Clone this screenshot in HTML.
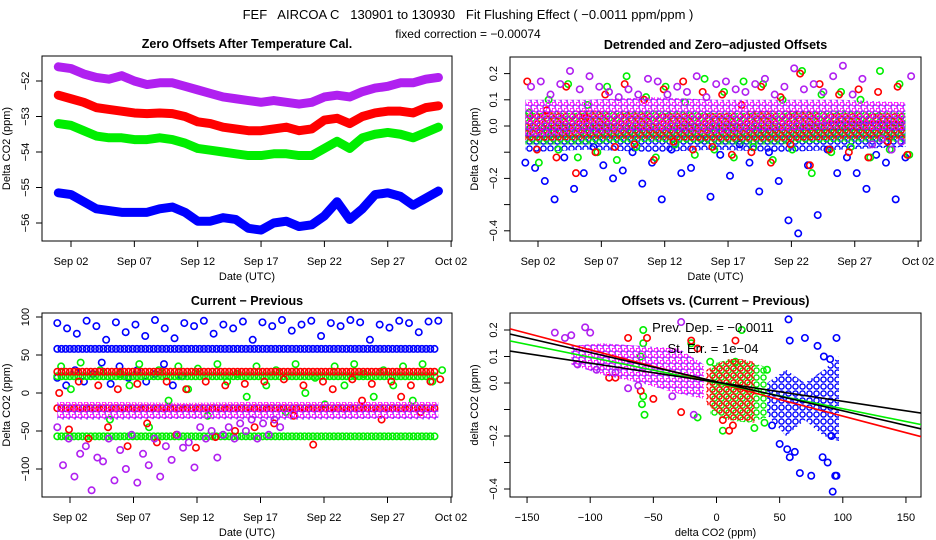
<!DOCTYPE html>
<html><head><meta charset="utf-8"><style>
html,body{margin:0;padding:0;background:#fff;}
svg{display:block;font-family:"Liberation Sans",sans-serif;}
</style></head><body>
<svg id="chart" width="936" height="540" viewBox="0 0 936 540" xmlns="http://www.w3.org/2000/svg">
<defs>
<pattern id="pat-purple" width="6" height="6" patternUnits="userSpaceOnUse"><circle cx="2" cy="2" r="2" fill="none" stroke="#ff00ff" stroke-width="1.3"/><circle cx="5" cy="5" r="2" fill="none" stroke="#8020ff" stroke-width="1.3"/></pattern>
<pattern id="pat-red" width="7" height="7" patternUnits="userSpaceOnUse" patternTransform="translate(2,1)"><circle cx="3.5" cy="3.5" r="2.6" fill="none" stroke="#ff0000" stroke-width="1.4"/></pattern>
<pattern id="pat-green" width="7" height="7" patternUnits="userSpaceOnUse" patternTransform="translate(4,3)"><circle cx="3.5" cy="3.5" r="2.6" fill="none" stroke="#00ee00" stroke-width="1.4"/></pattern>
<pattern id="pat-blue" width="7" height="7" patternUnits="userSpaceOnUse" patternTransform="translate(1,5)"><circle cx="3.5" cy="3.5" r="2.6" fill="none" stroke="#0000ff" stroke-width="1.4"/></pattern>
</defs>
<text x="468" y="19" text-anchor="middle" font-size="13" style="white-space:pre">FEF   AIRCOA C   130901 to 130930   Fit Flushing Effect ( −0.0011 ppm/ppm )</text>
<text x="468" y="38" text-anchor="middle" font-size="12">fixed correction = −0.00074</text>
</svg>
<script>
// ---------- data ----------
const tlDays=[1,2,3,4,5,6,7,8,9,10,11,12,13,14,15,16,17,18,19,20,21,22,23,24,25,26,27,28,29,30,31];
const tlPurple=[-51.6,-51.65,-51.8,-51.9,-51.95,-51.85,-52.0,-52.1,-52.05,-52.05,-52.15,-52.25,-52.35,-52.45,-52.5,-52.55,-52.6,-52.55,-52.6,-52.65,-52.6,-52.45,-52.4,-52.45,-52.3,-52.2,-52.15,-52.05,-52.05,-51.95,-51.9];
const tlRed=[-52.4,-52.5,-52.6,-52.75,-52.8,-52.85,-52.9,-52.92,-52.9,-52.92,-53.0,-53.15,-53.2,-53.3,-53.35,-53.4,-53.4,-53.35,-53.3,-53.4,-53.35,-53.1,-53.05,-53.2,-53.0,-52.9,-52.85,-52.85,-52.9,-52.75,-52.7];
const tlGreen=[-53.2,-53.25,-53.4,-53.55,-53.6,-53.6,-53.65,-53.65,-53.6,-53.65,-53.75,-53.9,-53.95,-54.0,-54.05,-54.1,-54.1,-54.05,-54.05,-54.1,-54.1,-53.9,-53.7,-53.9,-53.6,-53.5,-53.45,-53.5,-53.6,-53.45,-53.3];
const tlBlue=[-55.15,-55.2,-55.4,-55.6,-55.65,-55.7,-55.7,-55.7,-55.6,-55.55,-55.7,-55.95,-55.95,-55.85,-55.9,-56.15,-56.2,-56.0,-55.95,-56.1,-56.05,-55.8,-55.4,-55.9,-55.6,-55.2,-55.15,-55.25,-55.5,-55.3,-55.1];

const bandDays=[1,6,11,16,21,26,31];
const trBlueLo=[-0.10,-0.09,-0.10,-0.09,-0.10,-0.09,-0.08];
const trBlueHi=[0.00,0.01,0.00,0.01,0.00,0.02,0.02];
const trGreenLo=[-0.07,-0.07,-0.06,-0.07,-0.07,-0.06,-0.06];
const trGreenHi=[0.05,0.05,0.06,0.05,0.05,0.06,0.05];
const trRedLo=[-0.06,-0.05,-0.05,-0.06,-0.06,-0.05,-0.05];
const trRedHi=[0.05,0.06,0.05,0.05,0.06,0.05,0.05];
const trPurpleLo=[-0.04,-0.03,-0.02,-0.03,-0.02,-0.01,-0.02];
const trPurpleHi=[0.10,0.10,0.11,0.10,0.10,0.10,0.09];
const trPurple=[0.15,0.17,0.12,0.16,0.21,0.14,0.19,0.15,0.13,0.11,0.14,0.12,0.18,0.17,0.12,0.15,0.13,0.19,0.11,0.16,0.17,0.14,0.13,0.16,0.18,0.12,0.15,0.22,0.14,0.16,0.13,0.19,0.23,0.12,0.18,-0.07,-0.05,-0.09,-0.06,0.19];
const trRed=[0.17,-0.09,0.06,-0.12,0.15,-0.18,0.03,-0.10,0.12,-0.08,0.16,-0.07,0.10,-0.13,0.14,-0.06,0.17,-0.09,0.13,-0.08,0.12,-0.11,0.08,-0.10,0.15,-0.14,0.11,-0.07,0.20,-0.15,0.16,-0.09,0.12,-0.10,0.14,-0.12,0.13,-0.06,0.15,-0.11];
const trGreen=[0.05,-0.14,0.10,-0.09,0.16,-0.12,0.08,-0.10,0.15,-0.13,0.19,-0.08,0.11,-0.12,0.15,-0.07,0.09,-0.11,0.18,-0.09,0.13,-0.12,0.17,-0.08,0.16,-0.13,0.10,-0.09,0.21,-0.18,0.12,-0.10,0.13,-0.08,0.10,-0.12,0.21,-0.09,0.16,-0.11];
const trBlue=[-0.14,-0.16,-0.21,-0.28,-0.12,-0.24,-0.18,-0.08,-0.15,-0.20,-0.17,-0.10,-0.22,-0.14,-0.28,-0.09,-0.18,-0.16,-0.05,-0.27,-0.11,-0.19,-0.07,-0.14,-0.25,-0.10,-0.21,-0.36,-0.41,-0.15,-0.34,-0.09,-0.18,-0.12,-0.18,-0.24,-0.11,-0.14,-0.28,-0.12];

const blBlueLevels=[58];
const blGreenLevels=[22,-57];
const blRedLevels=[28,-20];
const blPurpleLo=[-35,-35,-34,-35,-35,-34,-35];
const blPurpleHi=[-12,-12,-13,-12,-12,-12,-12];
const blBlue=[92,85,78,95,88,70,93,80,90,75,96,85,72,92,88,95,78,90,85,94,70,93,88,96,82,90,95,75,92,88,96,93,70,90,86,95,92,80,94,95];
const blBlueLow=[20,10,30,15,25,40,12,35,20,30,15,25,38,10,22];
const blGreen=[35,5,40,-20,30,-35,25,10,38,-45,30,-10,35,5,32,-30,38,15,25,-5,35,10,30,-25,38,0,20,-15,35,10,38,25,-5,30,10,35,-10,38,15,30];
const blRed=[0,-48,15,-60,10,-45,5,-70,12,-40,-65,15,-55,5,-72,15,-58,10,-50,12,-45,15,-40,18,-30,10,-68,15,5,-20,18,-10,12,-35,15,-5,10,-25,15,18];
const blPurple=[-45,-95,-60,-110,-80,-70,-128,-85,-90,-60,-115,-75,-100,-55,-118,-80,-95,-60,-110,-70,-88,-55,-72,-65,-98,-45,-60,-50,-85,-55,-45,-60,-40,-50,-35,-60,-40,-55,-35,-45];

const brPurpleX=[-115,-90,-60,-30,-10];
const brPurpleLo=[0.07,0.03,0.00,-0.04,-0.06];
const brPurpleHi=[0.14,0.15,0.14,0.13,0.07];
const brRedX=[-8,0,10,20,30];
const brRedLo=[-0.08,-0.11,-0.14,-0.14,-0.15];
const brRedHi=[0.05,0.07,0.09,0.09,0.08];
const brGreenX=[-5,10,25,40];
const brGreenLo=[-0.12,-0.14,-0.15,-0.13];
const brGreenHi=[0.07,0.09,0.08,0.06];
const brBlueX=[40,55,70,85,97];
const brBlueLo=[-0.12,-0.20,-0.14,-0.20,-0.22];
const brBlueHi=[0.00,0.05,0.00,0.05,0.10];
const brBluePtX=[57,58,70,80,85,90,92,94,95,56,62,66,75,84,88,95,50,44,58,91];
const brBluePtY=[0.24,0.16,0.17,0.14,0.10,0.09,-0.41,-0.35,0.17,-0.25,-0.26,-0.34,-0.35,-0.28,-0.3,-0.35,-0.23,-0.16,-0.28,-0.2];
const brGreenPtX=[-58,-58,-60,-58,-57,-59,5,-20,-5,-15,40,38,20,15,30];
const brGreenPtY=[0.20,0.15,0.10,-0.05,-0.12,-0.08,-0.18,0.15,0.08,-0.13,0.05,-0.15,0.20,0.08,-0.17];
const brRedPtX=[-70,-55,-80,-20,-60,-28,-50,-85,15,10,13,-15,5];
const brRedPtY=[0.17,0.17,0.02,0.16,-0.03,-0.11,-0.06,0.02,0.16,-0.18,-0.16,0.13,-0.14];
const brPurplePtX=[-128,-104,-115,-100,-120,-110,-95,-70,-35,-28,-18,-80,-62];
const brPurplePtY=[0.19,0.21,0.18,0.19,0.17,0.07,0.05,-0.02,-0.05,0.23,-0.12,0.04,-0.01];
const fitIntercepts=[0.0,0.0,0.005,0.003];
const fitSlopes=[-0.00125,-0.00097,-0.0011,-0.00072];
const fitColors=['#ff0000','#00ee00','#000000','#000000'];
const fitNames=['fit-line-red','fit-line-green','fit-line-black','fit-line-fixed'];

const dateTicks=[2,7,12,17,22,27,32];
const dateLabels=['Sep 02','Sep 07','Sep 12','Sep 17','Sep 22','Sep 27','Oct 02'];
const tlYTicks=[-52,-53,-54,-55,-56];
const tlYLabels=['−52','−53','−54','−55','−56'];
const offTicks=[0.2,0.1,0.0,-0.1,-0.2,-0.3,-0.4];
const offLabels=['0.2','0.1','0.0','','−0.2','','−0.4'];
const blYTicks=[100,50,0,-50,-100];
const blYLabels=['100','50','0','−50','−100'];
const brXTicks=[-150,-100,-50,0,50,100,150];
const brXLabels=['−150','−100','−50','0','50','100','150'];

// ---------- helpers ----------
const NS='http://www.w3.org/2000/svg';
const svg=document.getElementById('chart');
function el(tag,parent){const e=document.createElementNS(NS,tag);parent.appendChild(e);return e;}
function group(name){const g=el('g',svg);return g;}

function drawAxes(g,box,xTicks,xLabels,xf,yTicks,yLabels,yf,title,xTitle,yTitle){
  const r=el('rect',g);
  
  
  r.setAttribute('x',box.l);r.setAttribute('y',box.t);r.setAttribute('width',box.r-box.l);r.setAttribute('height',box.b-box.t);
  r.setAttribute('fill','none');r.setAttribute('stroke','#000');r.setAttribute('stroke-width','1');
  const xa=el('line',g);
  
  
  xa.setAttribute('x1',xf(xTicks[0]));xa.setAttribute('x2',xf(xTicks[xTicks.length-1]));xa.setAttribute('y1',box.b);xa.setAttribute('y2',box.b);xa.setAttribute('stroke','#000');
  xTicks.forEach((v,i)=>{
    const t=el('line',g);
    
    
    t.setAttribute('x1',xf(v));t.setAttribute('x2',xf(v));t.setAttribute('y1',box.b);t.setAttribute('y2',box.b+6);t.setAttribute('stroke','#000');
    const l=el('text',g);
    
    
    l.setAttribute('x',xf(v));l.setAttribute('y',box.b+24);l.setAttribute('text-anchor','middle');l.setAttribute('font-size','11');
    l.textContent=xLabels[i];
  });
  const ya=el('line',g);
  
  
  ya.setAttribute('x1',box.l);ya.setAttribute('x2',box.l);ya.setAttribute('y1',yf(yTicks[0]));ya.setAttribute('y2',yf(yTicks[yTicks.length-1]));ya.setAttribute('stroke','#000');
  yTicks.forEach((v,i)=>{
    const t=el('line',g);
    
    
    t.setAttribute('x1',box.l-6);t.setAttribute('x2',box.l);t.setAttribute('y1',yf(v));t.setAttribute('y2',yf(v));t.setAttribute('stroke','#000');
    if(yLabels[i]){
      const l=el('text',g);
      
      
      const lx=box.l-13,ly=yf(v);
      l.setAttribute('x',lx);l.setAttribute('y',ly);l.setAttribute('text-anchor','middle');l.setAttribute('font-size','11');
      l.setAttribute('transform','rotate(-90 '+lx+' '+ly+')');
      l.textContent=yLabels[i];
    }
  });
  const tt=el('text',g);
  
  
  tt.setAttribute('x',(box.l+box.r)/2);tt.setAttribute('y',box.t-8);tt.setAttribute('text-anchor','middle');tt.setAttribute('font-size','12.5');tt.setAttribute('font-weight','bold');
  tt.textContent=title;
  const xt=el('text',g);
  
  
  xt.setAttribute('x',(box.l+box.r)/2);xt.setAttribute('y',box.b+39);xt.setAttribute('text-anchor','middle');xt.setAttribute('font-size','11');
  xt.textContent=xTitle;
  const yt=el('text',g);
  
  
  const cx=box.l-32,cy=(box.t+box.b)/2;
  yt.setAttribute('x',cx);yt.setAttribute('y',cy);yt.setAttribute('text-anchor','middle');yt.setAttribute('font-size','11');
  yt.setAttribute('transform','rotate(-90 '+cx+' '+cy+')');
  yt.textContent=yTitle;
}
function circle(g,x,y,color,name){
  const c=el('circle',g);
  
  
  c.setAttribute('cx',x);c.setAttribute('cy',y);c.setAttribute('r','3.2');c.setAttribute('fill','none');c.setAttribute('stroke',color);c.setAttribute('stroke-width','1.6');
}
function band(g,xs,lo,hi,xf,yf,pat,name){
  const pts=xs.map((x,i)=>xf(x)+','+yf(hi[i])).concat(xs.slice().reverse().map((x,i)=>xf(x)+','+yf(lo[lo.length-1-i])));
  const p=el('polygon',g);
  
  
  p.setAttribute('points',pts.join(' '));p.setAttribute('fill','url(#'+pat+')');p.setAttribute('stroke','none');
}
function idxDay(i,n){return 1+i*30/(n-1);}

const colors={purple:'#b020f0',red:'#ff0000',green:'#00ee00',blue:'#0000ff'};

// ---------- top-left ----------
(function(){
  const box={l:42,r:452,t:56,b:241};
  const xf=d=>71+(d-2)*12.67, yf=v=>81+(-52-v)*35.5;
  const g=group('panel-zero-offsets');
  drawAxes(g,box,dateTicks,dateLabels,xf,tlYTicks,tlYLabels,yf,'Zero Offsets After Temperature Cal.','Date (UTC)','Delta CO2 (ppm)');
  [['blue',tlBlue],['green',tlGreen],['red',tlRed],['purple',tlPurple]].forEach(([c,vals])=>{
    const p=el('polyline',g);
    
    
    p.setAttribute('points',vals.map((v,i)=>xf(tlDays[i])+','+yf(v)).join(' '));
    p.setAttribute('fill','none');p.setAttribute('stroke',colors[c]);
    p.setAttribute('stroke-width','9');p.setAttribute('stroke-linejoin','round');p.setAttribute('stroke-linecap','round');
  });
})();

// ---------- top-right ----------
(function(){
  const box={l:510,r:921,t:57,b:241};
  const xf=d=>538+(d-2)*12.67, yf=v=>126-v*262;
  const g=group('panel-detrended-offsets');
  drawAxes(g,box,dateTicks,dateLabels,xf,offTicks,offLabels,yf,'Detrended and Zero−adjusted Offsets','Date (UTC)','Delta CO2 (ppm)');
  band(g,bandDays,trBlueLo,trBlueHi,xf,yf,'pat-blue','band-blue');
  trBlue.forEach((v,i)=>circle(g,xf(idxDay(i,trBlue.length)),yf(v),colors.blue,'point-blue'));
  band(g,bandDays,trGreenLo,trGreenHi,xf,yf,'pat-green','band-green');
  trGreen.forEach((v,i)=>circle(g,xf(idxDay(i,trGreen.length)+0.3),yf(v),colors.green,'point-green'));
  band(g,bandDays,trRedLo,trRedHi,xf,yf,'pat-red','band-red');
  trRed.forEach((v,i)=>circle(g,xf(idxDay(i,trRed.length)+0.15),yf(v),colors.red,'point-red'));
  band(g,bandDays,trPurpleLo,trPurpleHi,xf,yf,'pat-purple','band-purple');
  trPurple.forEach((v,i)=>circle(g,xf(idxDay(i,trPurple.length)+0.45),yf(v),colors.purple,'point-purple'));
})();

// ---------- bottom-left ----------
(function(){
  const box={l:42,r:452,t:313,b:497};
  const xf=d=>70+(d-2)*12.7, yf=v=>393-v*0.76;
  const g=group('panel-current-previous');
  drawAxes(g,box,dateTicks,dateLabels,xf,blYTicks,blYLabels,yf,'Current − Previous','Date (UTC)','Delta CO2 (ppm)');
  function levels(arr,color,name){
    arr.forEach(v=>{for(let d=1;d<=31;d+=0.33){circle(g,xf(d),yf(v),color,name);}});
  }
  levels(blBlueLevels,colors.blue,'level-blue');
  blBlue.forEach((v,i)=>circle(g,xf(idxDay(i,blBlue.length)),yf(v),colors.blue,'point-blue'));
  blBlueLow.forEach((v,i)=>circle(g,xf(1+i*0.7),yf(v),colors.blue,'point-blue-low'));
  levels(blGreenLevels,colors.green,'level-green');
  blGreen.forEach((v,i)=>circle(g,xf(idxDay(i,blGreen.length)+0.3),yf(v),colors.green,'point-green'));
  levels(blRedLevels,colors.red,'level-red');
  blRed.forEach((v,i)=>circle(g,xf(idxDay(i,blRed.length)+0.15),yf(v),colors.red,'point-red'));
  band(g,bandDays,blPurpleLo,blPurpleHi,xf,yf,'pat-purple','band-purple');
  blPurple.forEach((v,i)=>circle(g,xf(1+i*0.45),yf(v),colors.purple,'point-purple'));
})();

// ---------- bottom-right ----------
(function(){
  const box={l:510,r:921,t:313,b:497};
  const xf=v=>716.5+v*1.263, yf=v=>383-v*265;
  const g=group('panel-offsets-vs-difference');
  drawAxes(g,box,brXTicks,brXLabels,xf,offTicks,offLabels,yf,'Offsets vs. (Current − Previous)','delta CO2 (ppm)','delta CO2 (ppm)');
  const clip=el('clipPath',g);clip.setAttribute('id','br-clip');
  const cr=el('rect',clip);cr.setAttribute('x',box.l);cr.setAttribute('y',box.t);cr.setAttribute('width',box.r-box.l);cr.setAttribute('height',box.b-box.t);
  const cg=el('g',g);
  
  
  cg.setAttribute('clip-path','url(#br-clip)');
  band(cg,brBlueX,brBlueLo,brBlueHi,xf,yf,'pat-blue','band-blue');
  brBluePtX.forEach((x,i)=>circle(cg,xf(x),yf(brBluePtY[i]),colors.blue,'point-blue'));
  band(cg,brGreenX,brGreenLo,brGreenHi,xf,yf,'pat-green','band-green');
  brGreenPtX.forEach((x,i)=>circle(cg,xf(x),yf(brGreenPtY[i]),colors.green,'point-green'));
  band(cg,brRedX,brRedLo,brRedHi,xf,yf,'pat-red','band-red');
  brRedPtX.forEach((x,i)=>circle(cg,xf(x),yf(brRedPtY[i]),colors.red,'point-red'));
  band(cg,brPurpleX,brPurpleLo,brPurpleHi,xf,yf,'pat-purple','band-purple');
  brPurplePtX.forEach((x,i)=>circle(cg,xf(x),yf(brPurplePtY[i]),colors.purple,'point-purple'));
  fitIntercepts.forEach((b,i)=>{
    const l=el('line',cg);
    
    
    l.setAttribute('x1',xf(-170));l.setAttribute('y1',yf(b+fitSlopes[i]*-170));
    l.setAttribute('x2',xf(170));l.setAttribute('y2',yf(b+fitSlopes[i]*170));
    l.setAttribute('stroke',fitColors[i]);l.setAttribute('stroke-width','1.6');
  });
  const a1=el('text',g);
  
  
  a1.setAttribute('x','713');a1.setAttribute('y','332');a1.setAttribute('text-anchor','middle');a1.setAttribute('font-size','13');
  a1.textContent='Prev. Dep. =  −0.0011';
  const a2=el('text',g);
  
  
  a2.setAttribute('x','713');a2.setAttribute('y','353');a2.setAttribute('text-anchor','middle');a2.setAttribute('font-size','13');
  a2.textContent='St. Err. =  1e−04';
})();
</script>
</body></html>
